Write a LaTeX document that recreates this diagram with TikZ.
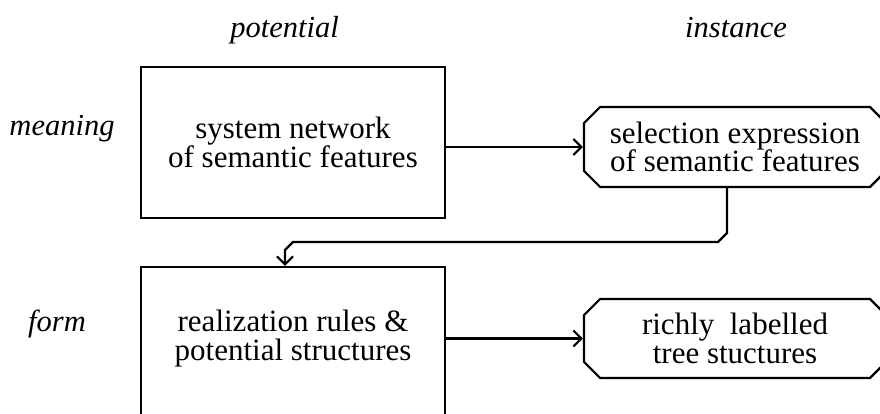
\documentclass[tikz,border=0pt]{standalone}
\usepackage{fontspec}
\setmainfont{Liberation Serif}
\usetikzlibrary{shapes.misc,arrows.meta,calc}
\tikzset{
  every node/.style={font=\fontsize{31}{28.5}\selectfont, inner sep=0pt, align=center},
  potbox/.style={draw, line width=2.2pt, rectangle, minimum width=304pt},
  instbox/.style={draw, line width=2.2pt, chamfered rectangle, chamfered rectangle xsep=13pt,
    chamfered rectangle angle=45, minimum width=302pt},
  conn/.style={line width=2.2pt, -{Straight Barb[length=8pt,width=16pt,line width=2.2pt]}},
  lbl/.style={font=\fontsize{30.5}{28}\selectfont\itshape, anchor=base}
}
\begin{document}
\begin{tikzpicture}[x=1pt,y=-1pt]
\clip (0,0) rectangle (880,414);
\fill[white] (0,0) rectangle (880,414);
% column and row labels
\node[lbl] (potl) at (284.5,38) {potential};
\node[lbl] (instl) at (736,38) {instance};
\node[lbl] (meanl) at (62,136) {meaning};
\node[lbl] (forml) at (57,331) {form};
% boxes
\node[potbox, minimum height=151pt] (sys) at (293,142.5) {system network\\of semantic features};
\node[instbox, minimum height=80pt] (sel) at (735,147) {selection expression\\of semantic features};
\node[potbox, minimum height=150pt] (real) at (293,342) {};
\node (realt) at (293,338.5) {realization rules \&\\potential structures};
\node[instbox, minimum height=79pt] (tree) at (735,338.5) {richly\ \ labelled\\tree stuctures};
% connectors
\draw[conn] (sys.east |- sel.west) -- (sel.west);
\draw[conn] (real.east |- tree.west) -- (tree.west);
\coordinate (p1) at ([xshift=-8pt]sel.south);
\coordinate (p2) at ([xshift=-8pt]real.north);
\draw[conn] (p1) -- ($(p1 |- 0,242)+(0,-9)$) -- ($(p1 |- 0,242)+(-9,0)$)
  -- ($(p2 |- 0,242)+(8,0)$) -- ($(p2 |- 0,242)+(0,8)$) -- (p2);
\end{tikzpicture}
\end{document}
